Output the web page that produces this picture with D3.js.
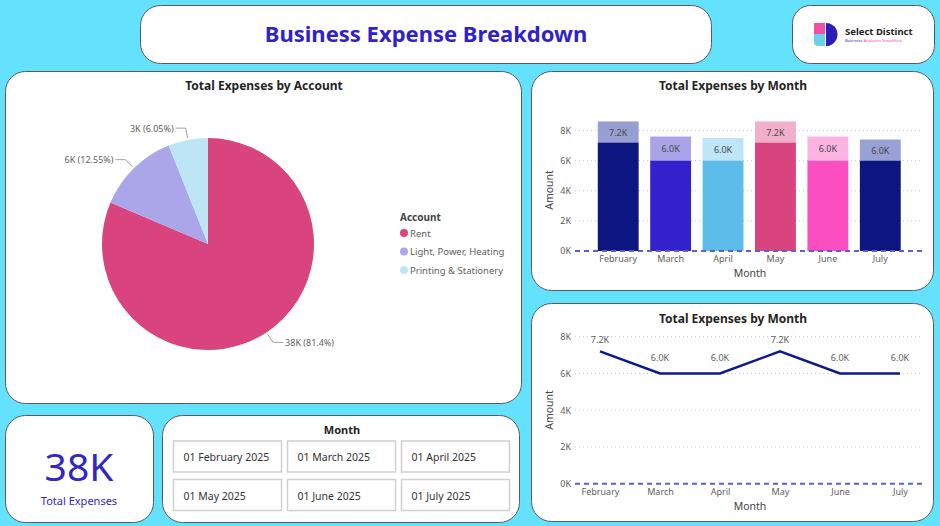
<!DOCTYPE html>
<html>
<head>
<meta charset="utf-8">
<title>Business Expense Breakdown</title>
<script src="https://d3js.org/d3.v7.min.js"></script>
<style>
  html, body { margin: 0; padding: 0; background: #64E1FD; overflow: hidden; }
  svg { display: block; }
  text { font-family: "Noto Sans", "Open Sans", sans-serif; }
</style>
</head>
<body>
<svg width="940" height="526"></svg>
<script>
// ---- data ----
const accounts = ["Rent", "Light, Power, Heating", "Printing & Stationery"];
const accountValues = [38000, 5860, 2825];
const accountLabels = ["38K (81.4%)", "6K (12.55%)", "3K (6.05%)"];
const accountColors = ["#D9437E", "#ABA6EA", "#BEE5F6"];

const months = ["February", "March", "April", "May", "June", "July"];
const monthAmounts = [7200, 6000, 6000, 7200, 6000, 6000];
const monthTotals = [8600, 7600, 7500, 8600, 7600, 7400];
const barColors = ["#0D1580", "#3322CC", "#5EBCEB", "#D9437E", "#FB4EC0", "#0D1580"];
const barTopColors = ["#979FD2", "#A9A3E8", "#BEE6F7", "#F1AFC9", "#FBB3E2", "#98A1D3"];
const yTicks = [0, 2000, 4000, 6000, 8000];

const slicerItems = ["01 February 2025", "01 March 2025", "01 April 2025",
                     "01 May 2025", "01 June 2025", "01 July 2025"];

const svg = d3.select("svg");
const kfmt = v => (v / 1000) + "K";
const dfmt = v => (v / 1000).toFixed(1) + "K";

function panel(x, y, w, h, r) {
  svg.append("rect")
    .attr("x", x).attr("y", y).attr("width", w).attr("height", h)
    .attr("rx", r).attr("ry", r)
    .attr("fill", "white").attr("stroke", "#5a5a5a").attr("stroke-width", 1);
}

// ---- panels ----
panel(140.5, 5.5, 571, 58, 20);
panel(792.5, 5.5, 142, 58, 18);
panel(5.5, 71.5, 516, 332, 20);
panel(531.5, 71.5, 402, 219, 20);
panel(531.5, 303.5, 402, 218, 20);
panel(5.5, 415.5, 148, 107, 20);
panel(162.5, 415.5, 357, 107, 20);

// ---- header ----
svg.append("text")
  .attr("x", 426).attr("y", 42)
  .attr("text-anchor", "middle")
  .attr("font-size", 22).attr("font-weight", "bold")
  .attr("fill", "#2F22C8")
  .text("Business Expense Breakdown");

// logo
const logo = svg.append("g").attr("transform", "translate(814,23)");
logo.append("path").attr("d", "M0,0 H11 V11 H0 Z").attr("fill", "#F04FA8");
logo.append("path").attr("d", "M0,11 H11 V23 H4 Q0,23 0,19 Z").attr("fill", "#6FCDEE");
logo.append("path").attr("d", "M12,0 A11.5,11.5 0 0 1 12,23 Z").attr("fill", "#2A1FB8");
svg.append("text").attr("x", 845).attr("y", 35)
  .attr("font-size", 9.5).attr("font-weight", "bold").attr("fill", "#222")
  .text("Select Distinct");
const tag = svg.append("text").attr("x", 845).attr("y", 41.5).attr("font-size", 4.2);
tag.append("tspan").attr("fill", "#3322CC").text("Business ");
tag.append("tspan").attr("fill", "#F04FA8").text("Analytics Simplified");

// ---- pie chart ----
svg.append("text")
  .attr("x", 264).attr("y", 90)
  .attr("text-anchor", "middle")
  .attr("font-size", 12).attr("font-weight", "bold").attr("fill", "#252423")
  .text("Total Expenses by Account");

const pcx = 208, pcy = 244, pr = 106;
const pie = d3.pie().sort(null)(accountValues);
const arc = d3.arc().innerRadius(0).outerRadius(pr);
const pieG = svg.append("g").attr("transform", `translate(${pcx},${pcy})`);
pieG.selectAll("path.slice")
  .data(pie)
  .join("path")
  .attr("class", "slice")
  .attr("d", arc)
  .attr("fill", (d, i) => accountColors[i]);

pie.forEach((d, i) => {
  const a = (d.startAngle + d.endAngle) / 2;
  const p1 = [Math.sin(a) * (pr + 2), -Math.cos(a) * (pr + 2)];
  const p2 = [Math.sin(a) * 118, -Math.cos(a) * 118];
  const dir = Math.sin(a) >= 0 ? 1 : -1;
  const p3 = [p2[0] + dir * 10, p2[1]];
  pieG.append("polyline")
    .attr("points", [p1, p2, p3].map(p => p.join(",")).join(" "))
    .attr("fill", "none").attr("stroke", "#A0A0A0").attr("stroke-width", 1);
  pieG.append("text")
    .attr("x", p3[0] + dir * 2).attr("y", p3[1] + 3.5)
    .attr("text-anchor", dir > 0 ? "start" : "end")
    .attr("font-size", 9).attr("fill", "#605E5C")
    .text(accountLabels[i]);
});

// legend
svg.append("text").attr("x", 400).attr("y", 221)
  .attr("font-size", 10).attr("font-weight", "bold").attr("fill", "#444")
  .text("Account");
const leg = svg.append("g").selectAll("g").data(accounts).join("g")
  .attr("transform", (d, i) => `translate(404,${233 + i * 18.5})`);
leg.append("circle").attr("r", 4).attr("fill", (d, i) => accountColors[i]);
leg.append("text").attr("x", 6).attr("y", 3.5)
  .attr("font-size", 9.5).attr("fill", "#605E5C").text(d => d);

// ---- bar chart ----
svg.append("text")
  .attr("x", 733).attr("y", 90)
  .attr("text-anchor", "middle")
  .attr("font-size", 12).attr("font-weight", "bold").attr("fill", "#252423")
  .text("Total Expenses by Month");

const bx = d3.scaleBand().domain(months).range([592, 906.5]).paddingInner(0.22).paddingOuter(0.11);
const by = d3.scaleLinear().domain([0, 8000]).range([251, 130.5]);

const barGrid = svg.append("g");
barGrid.selectAll("line").data(yTicks.filter(t => t > 0)).join("line")
  .attr("x1", 575).attr("x2", 922)
  .attr("y1", d => by(d)).attr("y2", d => by(d))
  .attr("stroke", "#C8C6C4").attr("stroke-dasharray", "1,3");

const yAxisBar = svg.append("g").attr("transform", "translate(571,0)")
  .call(d3.axisLeft(by).tickValues(yTicks).tickFormat(kfmt).tickSize(0).tickPadding(0));
yAxisBar.select(".domain").remove();
yAxisBar.selectAll("text").attr("font-size", 9).attr("fill", "#605E5C")
  .attr("font-family", "'Noto Sans', sans-serif");

const barG = svg.append("g");
barG.selectAll("rect.top").data(months).join("rect")
  .attr("class", "top")
  .attr("x", d => bx(d)).attr("width", bx.bandwidth())
  .attr("y", (d, i) => by(monthTotals[i]))
  .attr("height", (d, i) => by(monthAmounts[i]) - by(monthTotals[i]))
  .attr("fill", (d, i) => barTopColors[i]);
barG.selectAll("rect.main").data(months).join("rect")
  .attr("class", "main")
  .attr("x", d => bx(d)).attr("width", bx.bandwidth())
  .attr("y", (d, i) => by(monthAmounts[i]))
  .attr("height", (d, i) => by(0) - by(monthAmounts[i]))
  .attr("fill", (d, i) => barColors[i]);
barG.selectAll("text").data(months).join("text")
  .attr("x", d => bx(d) + bx.bandwidth() / 2)
  .attr("y", (d, i) => (by(monthTotals[i]) + by(monthAmounts[i])) / 2 + 3.5)
  .attr("text-anchor", "middle")
  .attr("font-size", 9).attr("fill", "#4a4a4a")
  .text((d, i) => dfmt(monthAmounts[i]));

svg.append("line")
  .attr("x1", 575).attr("x2", 922).attr("y1", by(0)).attr("y2", by(0))
  .attr("stroke", "#5E5ED0").attr("stroke-width", 2).attr("stroke-dasharray", "5,4");

const xAxisBar = svg.append("g").attr("transform", `translate(0,${by(0) + 5})`)
  .call(d3.axisBottom(bx).tickSize(0).tickPadding(0));
xAxisBar.select(".domain").remove();
xAxisBar.selectAll("text").attr("font-size", 9).attr("fill", "#605E5C")
  .attr("font-family", "'Noto Sans', sans-serif");

svg.append("text").attr("x", 750).attr("y", 277)
  .attr("text-anchor", "middle").attr("font-size", 10.5).attr("fill", "#444")
  .text("Month");
svg.append("text")
  .attr("transform", "translate(553,190) rotate(-90)")
  .attr("text-anchor", "middle").attr("font-size", 10.5).attr("fill", "#444")
  .text("Amount");

// ---- line chart ----
svg.append("text")
  .attr("x", 733).attr("y", 323)
  .attr("text-anchor", "middle")
  .attr("font-size", 12).attr("font-weight", "bold").attr("fill", "#252423")
  .text("Total Expenses by Month");

const lx = d3.scalePoint().domain(months).range([600, 900]);
const ly = d3.scaleLinear().domain([0, 8000]).range([483.7, 336.7]);

svg.append("g").selectAll("line").data(yTicks.filter(t => t > 0)).join("line")
  .attr("x1", 575).attr("x2", 922)
  .attr("y1", d => ly(d)).attr("y2", d => ly(d))
  .attr("stroke", "#C8C6C4").attr("stroke-dasharray", "1,3");

const yAxisLine = svg.append("g").attr("transform", "translate(571,0)")
  .call(d3.axisLeft(ly).tickValues(yTicks).tickFormat(kfmt).tickSize(0).tickPadding(0));
yAxisLine.select(".domain").remove();
yAxisLine.selectAll("text").attr("font-size", 9).attr("fill", "#605E5C")
  .attr("font-family", "'Noto Sans', sans-serif");

svg.append("line")
  .attr("x1", 575).attr("x2", 922).attr("y1", ly(0)).attr("y2", ly(0))
  .attr("stroke", "#5E5ED0").attr("stroke-width", 2).attr("stroke-dasharray", "5,4");

svg.append("path")
  .datum(monthAmounts)
  .attr("fill", "none").attr("stroke", "#0E1A8A").attr("stroke-width", 2.5)
  .attr("d", d3.line().x((d, i) => lx(months[i])).y(d => ly(d)));

svg.append("g").selectAll("text").data(monthAmounts).join("text")
  .attr("x", (d, i) => lx(months[i]))
  .attr("y", d => Math.max(ly(d) - 12, 343))
  .attr("text-anchor", "middle").attr("font-size", 9).attr("fill", "#605E5C")
  .text(d => dfmt(d));

const xAxisLine = svg.append("g").attr("transform", `translate(0,${ly(0) + 5})`)
  .call(d3.axisBottom(lx).tickSize(0).tickPadding(0));
xAxisLine.select(".domain").remove();
xAxisLine.selectAll("text").attr("font-size", 9).attr("fill", "#605E5C")
  .attr("font-family", "'Noto Sans', sans-serif");

svg.append("text").attr("x", 750).attr("y", 510)
  .attr("text-anchor", "middle").attr("font-size", 10.5).attr("fill", "#444")
  .text("Month");
svg.append("text")
  .attr("transform", "translate(553,410) rotate(-90)")
  .attr("text-anchor", "middle").attr("font-size", 10.5).attr("fill", "#444")
  .text("Amount");

// ---- KPI card ----
svg.append("text").attr("x", 79).attr("y", 481)
  .attr("text-anchor", "middle").attr("font-size", 39).attr("fill", "#3226C6")
  .text(kfmt(38000));
svg.append("text").attr("x", 79).attr("y", 505)
  .attr("text-anchor", "middle").attr("font-size", 11).attr("fill", "#3226C6")
  .text("Total Expenses");

// ---- slicer ----
svg.append("text").attr("x", 342).attr("y", 434)
  .attr("text-anchor", "middle").attr("font-size", 11).attr("font-weight", "bold").attr("fill", "#252423")
  .text("Month");
const sl = svg.append("g").selectAll("g").data(slicerItems).join("g")
  .attr("transform", (d, i) => `translate(${173.5 + (i % 3) * 114},${441 + Math.floor(i / 3) * 38.5})`);
sl.append("rect").attr("width", 108).attr("height", 31)
  .attr("fill", "white").attr("stroke", "#D0D0D0").attr("stroke-width", 1.5);
sl.append("text").attr("x", 10).attr("y", 20)
  .attr("font-size", 10.5).attr("fill", "#333").text(d => d);
</script>
</body>
</html>
